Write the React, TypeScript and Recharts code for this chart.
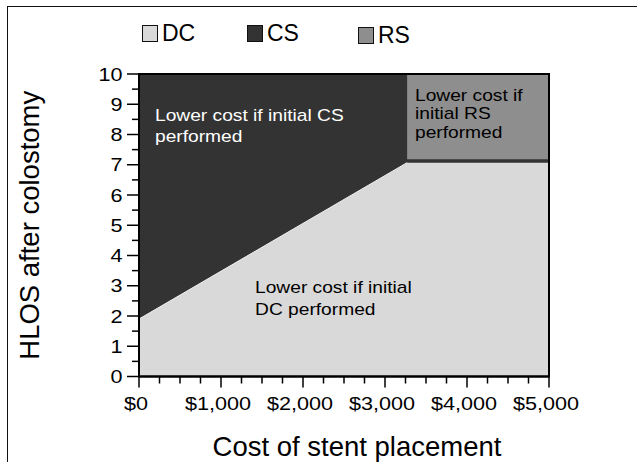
import React from 'react';
import {
  ComposedChart,
  Area,
  Line,
  XAxis,
  YAxis,
  Legend,
  ReferenceArea,
  ReferenceDot,
} from 'recharts';

// stent cost (x) and the HLOS thresholds between strategies
const costs = [0, 3270, 5000];
const dcBoundary = [1.9, 7.07, 7.07];
const csTop = [10, 10, 10];
const rsLow = [null, 7.18, 7.18];
const rsHigh = [null, 10, 10];
const edge = [1.9, 7.07, null];

const xTicks = [0, 250, 500, 750, 1000, 1250, 1500, 1750, 2000, 2250, 2500, 2750, 3000, 3250, 3500, 3750, 4000, 4250, 4500, 4750, 5000];
const yTicks = [0, 0.5, 1, 1.5, 2, 2.5, 3, 3.5, 4, 4.5, 5, 5.5, 6, 6.5, 7, 7.5, 8, 8.5, 9, 9.5, 10];

const seriesNames = ['DC', 'CS', 'RS'];
const seriesColors = ['#d9d9d9', '#333333', '#8e8e8e'];

const csNote = ['Lower cost if initial CS', 'performed'];
const dcNote = ['Lower cost if initial', 'DC performed'];
const rsNote = ['Lower cost if', 'initial RS', 'performed'];

const data = costs.map((c, i) => ({
  cost: c,
  dc: dcBoundary[i],
  cs: csTop[i],
  rs: rsLow[i] == null ? null : [rsLow[i], rsHigh[i]],
  edge: edge[i],
}));

const FONT = '"Liberation Sans", Arial, Helvetica, sans-serif';

const fmtCost = (v: number) => '$' + v.toLocaleString('en-US');

const XTick = (props: any) => {
  const { x, y, payload } = props;
  const v = payload.value;
  const major = v % 1000 === 0;
  return (
    <g>
      <line x1={x} x2={x} y1={y} y2={y + (major ? 11 : 7)} stroke="#000" strokeWidth={1.5} />
      {major && (
        <text
          transform={`translate(${x - 3},${y + 33}) scale(1.2,1)`}
          textAnchor="middle"
          fontSize={18}
          fontFamily={FONT}
          fill="#000"
        >
          {fmtCost(v)}
        </text>
      )}
    </g>
  );
};

const YTick = (props: any) => {
  const { x, y, payload } = props;
  const v = payload.value;
  const major = Number.isInteger(v);
  return (
    <g>
      <line x1={x - (major ? 12 : 7)} x2={x} y1={y} y2={y} stroke="#000" strokeWidth={1.5} />
      {major && (
        <text
          transform={`translate(${x - 16.5},${y + 6.5}) scale(1.2,1)`}
          textAnchor="end"
          fontSize={18}
          fontFamily={FONT}
          fill="#000"
        >
          {v}
        </text>
      )}
    </g>
  );
};

const Note = (props: any) => {
  const { viewBox, lines, gap, fill } = props;
  return (
    <text
      transform={`translate(${viewBox.x},${viewBox.y}) scale(1.2,1)`}
      fontSize={16}
      fontFamily={FONT}
      fill={fill}
    >
      {lines.map((l: string, i: number) => (
        <tspan key={i} x={0} y={i * gap}>
          {l}
        </tspan>
      ))}
    </text>
  );
};

const legendLeft = [142, 247, 358];
const legendTop = [23, 23, 25];

const LegendBox = () => (
  <div style={{ position: 'relative', height: 0 }}>
    {seriesNames.map((n, i) => (
      <div
        key={n}
        style={{
          position: 'absolute',
          left: legendLeft[i],
          top: legendTop[i],
          display: 'flex',
          alignItems: 'center',
          fontFamily: FONT,
          fontSize: 23,
          color: '#000',
          lineHeight: '20px',
          whiteSpace: 'nowrap',
        }}
      >
        <span
          style={{
            display: 'inline-block',
            width: 14,
            height: 15,
            background: seriesColors[i],
            border: '1.5px solid #111',
            marginRight: 4,
          }}
        />
        {n}
      </div>
    ))}
  </div>
);

export default function App() {
  return (
    <div
      style={{
        position: 'absolute',
        left: 0,
        top: 0,
        width: 637,
        height: 462,
        overflow: 'hidden',
        background: '#fff',
      }}
    >
      <div
        style={{
          position: 'absolute',
          left: 7,
          top: 6,
          width: 700,
          height: 600,
          border: '1.5px solid #111',
        }}
      />
      <ComposedChart
        width={637}
        height={462}
        data={data}
        margin={{ top: 74, right: 88, bottom: 45.5, left: 79 }}
      >
        <XAxis
          dataKey="cost"
          type="number"
          domain={[0, 5000]}
          ticks={xTicks}
          interval={0}
          tickSize={0}
          tickMargin={0}
          tickLine={false}
          tick={<XTick />}
          axisLine={{ stroke: '#000', strokeWidth: 2 }}
          height={40}
          label={(p: any) => (
            <text
              x={p.viewBox.x + p.viewBox.width / 2 + 13}
              y={p.viewBox.y + 79.5}
              textAnchor="middle"
              fontSize={27.5}
              fontFamily={FONT}
              fill="#000"
            >
              Cost of stent placement
            </text>
          )}
        />
        <YAxis
          type="number"
          domain={[0, 10]}
          ticks={yTicks}
          interval={0}
          tickSize={0}
          tickMargin={0}
          tickLine={false}
          tick={<YTick />}
          axisLine={{ stroke: '#000', strokeWidth: 2 }}
          width={60}
          label={(p: any) => (
            <text
              transform={`translate(39,${p.viewBox.y + p.viewBox.height / 2}) rotate(-90)`}
              textAnchor="middle"
              fontSize={27.5}
              fontFamily={FONT}
              fill="#000"
            >
              HLOS after colostomy
            </text>
          )}
        />
        <Legend verticalAlign="top" content={<LegendBox />} wrapperStyle={{ top: 0, left: 0, width: 637 }} />
        <Area
          dataKey="cs"
          name="CS"
          type="linear"
          fill={seriesColors[1]}
          fillOpacity={1}
          stroke="none"
          isAnimationActive={false}
        />
        <Area
          dataKey="dc"
          name="DC"
          type="linear"
          fill={seriesColors[0]}
          fillOpacity={1}
          stroke="none"
          isAnimationActive={false}
        />
        <Area
          dataKey="rs"
          name="RS"
          type="linear"
          fill={seriesColors[2]}
          fillOpacity={1}
          stroke="none"
          isAnimationActive={false}
        />
        <Line
          dataKey="edge"
          type="linear"
          stroke="#f2f2f2"
          strokeWidth={1}
          dot={false}
          legendType="none"
          isAnimationActive={false}
        />
        <ReferenceArea x1={0} x2={5000} y1={0} y2={10} fill="none" stroke="#000" strokeWidth={2} />
        <ReferenceDot
          x={195}
          y={8.45}
          r={0}
          fill="none"
          stroke="none"
          label={(p: any) => <Note {...p} lines={csNote} gap={21.5} fill="#fff" />}
        />
        <ReferenceDot
          x={1415}
          y={2.77}
          r={0}
          fill="none"
          stroke="none"
          label={(p: any) => <Note {...p} lines={dcNote} gap={22.3} fill="#000" />}
        />
        <ReferenceDot
          x={3366}
          y={9.12}
          r={0}
          fill="none"
          stroke="none"
          label={(p: any) => <Note {...p} lines={rsNote} gap={18.7} fill="#000" />}
        />
      </ComposedChart>
    </div>
  );
}
